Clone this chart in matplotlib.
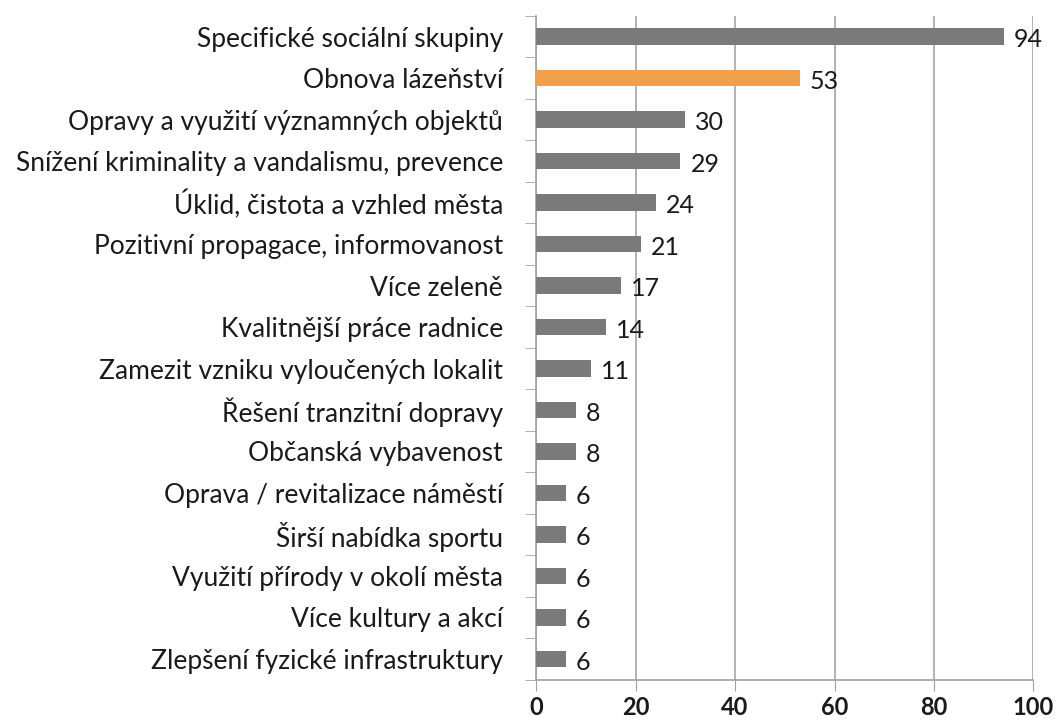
import matplotlib
matplotlib.use("Agg")
import matplotlib.pyplot as plt

plt.rcParams['font.family'] = ['Lato', 'DejaVu Sans']

categories = [
    "Specifické sociální skupiny",
    "Obnova lázeňství",
    "Opravy a využití významných objektů",
    "Snížení kriminality a vandalismu, prevence",
    "Úklid, čistota a vzhled města",
    "Pozitivní propagace, informovanost",
    "Více zeleně",
    "Kvalitnější práce radnice",
    "Zamezit vzniku vyloučených lokalit",
    "Řešení tranzitní dopravy",
    "Občanská vybavenost",
    "Oprava / revitalizace náměstí",
    "Širší nabídka sportu",
    "Využití přírody v okolí města",
    "Více kultury a akcí",
    "Zlepšení fyzické infrastruktury",
]
values = [94, 53, 30, 29, 24, 21, 17, 14, 11, 8, 8, 6, 6, 6, 6, 6]
highlight = "Obnova lázeňství"
x_ticks = [0, 20, 40, 60, 80, 100]

colors = ["#f0a04b" if c == highlight else "#7a7a7a" for c in categories]

fig = plt.figure(figsize=(10.62, 7.2), dpi=100)
ax = fig.add_axes([0.505, 0.056, 0.468, 0.922])

ypos = list(range(len(categories)))[::-1]
ax.barh(ypos, values, height=0.4, color=colors, zorder=3)
for y, v in zip(ypos, values):
    ax.text(v + 2.0, y - 0.08, str(v), va="center", ha="left", fontsize=18, color="#1a1a1a", zorder=4)

ax.set_xlim(0, 100)
ax.set_ylim(-0.5, len(categories) - 0.5)
ax.set_xticks(x_ticks)
ax.set_xticklabels([str(t) for t in x_ticks], fontsize=17, fontweight="bold", color="#1a1a1a")
ax.set_yticks(ypos)
ax.set_yticklabels(categories, fontsize=19, color="#1a1a1a")
ax.tick_params(axis="y", length=0, pad=24)
ax.tick_params(axis="x", length=8, color="#a0a0a0", pad=4)

# category boundary ticks on the y axis
ax.set_yticks([i - 0.5 for i in range(len(categories) + 1)], minor=True)
ax.tick_params(axis="y", which="minor", length=8, color="#a0a0a0")

ax.grid(axis="x", color="#a6a6a6", linewidth=1.2, zorder=0)
for s in ["top", "right"]:
    ax.spines[s].set_visible(False)
for s in ["left", "bottom"]:
    ax.spines[s].set_color("#a0a0a0")
    ax.spines[s].set_linewidth(1.2)

fig.savefig("out.png", dpi=100)
